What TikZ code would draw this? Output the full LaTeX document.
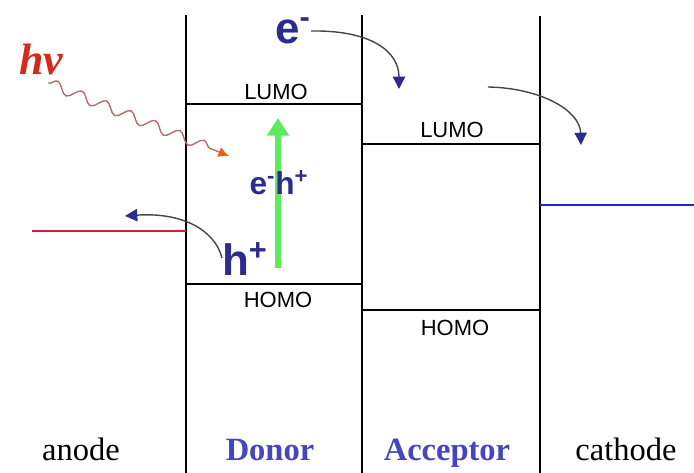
\documentclass[tikz,border=0pt]{standalone}
\usepackage{fontspec}
\setmainfont{Liberation Serif}
\setsansfont{Liberation Sans}
\usetikzlibrary{arrows.meta,decorations.pathmorphing}
\definecolor{navy}{HTML}{2C2C8C}
\definecolor{dblue}{HTML}{4444C4}
\definecolor{wire}{HTML}{45454F}
\definecolor{hvred}{HTML}{D42A1A}
\definecolor{wave}{HTML}{B86E6E}
\definecolor{tipor}{HTML}{E8601C}
\definecolor{exgreen}{HTML}{5CEB5C}
\definecolor{anred}{HTML}{D42030}
\definecolor{catblue}{HTML}{1A2ED0}

\begin{document}
\begin{tikzpicture}[x=0.02cm, y=-0.02cm,
  wall/.style={draw=black, line width=1.7pt},
  lvl/.style={draw=black, line width=1.5pt},
  orb/.style={font=\sffamily\fontsize{12.5}{13}\selectfont, inner sep=0pt},
  car/.style={text=navy, inner sep=0pt},
  bot/.style={font=\fontsize{18.5}{20}\selectfont, anchor=base, inner sep=0pt},
  hop/.style={draw=wire, line width=0.8pt, -{Triangle[color=navy, length=7pt, width=7pt]}}
]
\useasboundingbox (0,0) rectangle (694,473);

% walls and levels
\coordinate (w1t) at (186,15);  \coordinate (w1b) at (186,473);
\coordinate (w2t) at (362,15);  \coordinate (w2b) at (362,473);
\coordinate (w3t) at (540,16);  \coordinate (w3b) at (540,473);
\coordinate (dL) at (0,104);  \coordinate (aL) at (0,144);
\coordinate (dH) at (0,284);  \coordinate (aH) at (0,310);
\coordinate (anl) at (32,231);  \coordinate (catr) at (694,205);

\draw[wall] (w1t) -- (w1b);
\draw[wall] (w2t) -- (w2b);
\draw[wall] (w3t) -- (w3b);
\draw[lvl] (w1t |- dL) -- (w2t |- dL);
\draw[lvl] (w2t |- aL) -- (w3t |- aL);
\draw[lvl] (w1t |- dH) -- (w2t |- dH);
\draw[lvl] (w2t |- aH) -- (w3t |- aH);
\draw[draw=anred, line width=1.7pt] (anl) -- (w1t |- anl);
\draw[draw=catblue, line width=1.7pt] (w3t |- catr) -- (catr);

\node[orb] (dlumo) at (276,92) {LUMO};
\node[orb] (alumo) at (452,130) {LUMO};
\node[orb] (dhomo) at (278,300) {HOMO};
\node[orb] (ahomo) at (455,328) {HOMO};

% excitation
\coordinate (exbot) at (278,268);
\coordinate (extop) at (278,118);
\draw[draw=exgreen, line width=3.5pt, -{Triangle[length=10pt, width=12pt]}] (exbot) -- (extop);

\node[car, font=\sffamily\bfseries\fontsize{18}{18}\selectfont] (exc) at (279,183)
  {e\textsuperscript{-}h\textsuperscript{+}};
\node[car, font=\sffamily\bfseries\fontsize{25}{25}\selectfont] (hole) at (245,259)
  {h\textsuperscript{+}};
\node[car, font=\sffamily\bfseries\fontsize{25}{25}\selectfont] (elec) at (293,31)
  {e\textsuperscript{-}};
\node[text=hvred, font=\bfseries\itshape\fontsize{25}{25}\selectfont, inner sep=0pt] (hv) at (41,59) {hv};

% photon
\coordinate (hvw) at (48,83);
\coordinate (hvtip) at (229,156);
\draw[draw=wave, line width=0.8pt, decorate,
      decoration={snake, amplitude=3pt, segment length=15pt, post length=5pt},
      -{Latex[color=tipor, length=6pt, width=6pt]}] (hvw) -- (hvtip);

% charge transfer
\coordinate (e1) at (399,89);
\coordinate (e2s) at (488,87);
\coordinate (e2) at (581,145);
\coordinate (hpt) at (125,216);
\draw[hop] (elec.east) .. controls (372,30) and (399,52) .. (e1);
\draw[hop] (e2s) .. controls (540,88) and (580,110) .. (e2);
\draw[hop] (222,258) .. controls (215,230) and (182,212) .. (hpt);

\node[bot] (anode) at (81,460) {anode};
\node[bot, text=dblue, font=\bfseries\fontsize{18.5}{20}\selectfont] (donor) at (270,460) {Donor};
\node[bot, text=dblue, font=\bfseries\fontsize{18.5}{20}\selectfont] (accep) at (447,460) {Acceptor};
\node[bot] (cathode) at (626,460) {cathode};

\end{tikzpicture}
\end{document}
